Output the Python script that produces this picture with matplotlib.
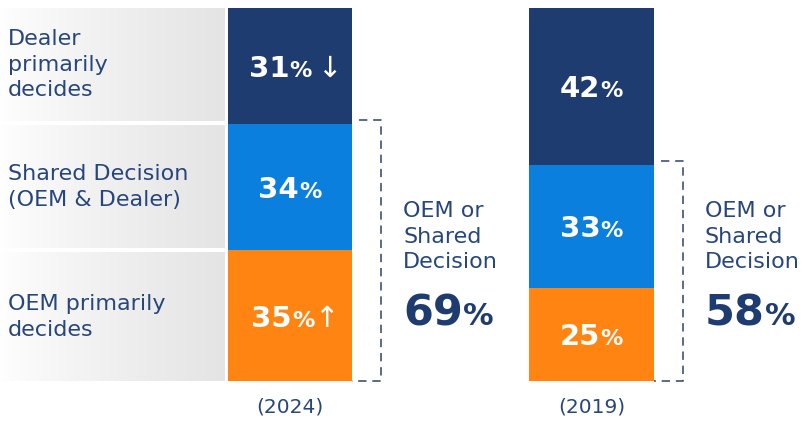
import numpy as np
import matplotlib
matplotlib.use("Agg")
import matplotlib.pyplot as plt

# data (percent of respondents)
years = ["(2024)", "(2019)"]
categories = ["OEM primarily\ndecides", "Shared Decision\n(OEM & Dealer)", "Dealer\nprimarily\ndecides"]
oem = [35, 25]
shared = [34, 33]
dealer = [31, 42]
combined = [69, 58]
# trend arrows shown next to the 2024 values (bottom to top)
trend_2024 = ["↑", "", "↓"]

navy = "#1f3c70"
blue = "#0a7fde"
orange = "#ff8412"
text_col = "#27467c"
bracket_col = "#3e5176"
colors = [orange, blue, navy]

fig = plt.figure(figsize=(8.09, 4.24), dpi=100)
ax = fig.add_axes([0, 43 / 424, 1, 373 / 424])
ax.set_xlim(0, 809)
ax.set_ylim(0, 100)
for s in ax.spines.values():
    s.set_visible(False)
ax.set_yticks([])

centers = [290, 591.5]
width = 124.5
series = [oem, shared, dealer]

# stacked bars
bottoms = np.zeros(len(years))
seg_bounds = []
for vals, col in zip(series, colors):
    vals = np.array(vals, dtype=float)
    ax.bar(centers, vals, width=width, bottom=bottoms, color=col, zorder=2)
    seg_bounds.append((bottoms.copy(), bottoms + vals))
    bottoms = bottoms + vals

# gradient panels behind the row labels, aligned to the 2024 segments
grad = 1.0 - 0.105 * np.linspace(0, 1, 256) ** 0.8
img = np.dstack([grad, grad, grad])
gap = 0.6
for i, lab in enumerate(categories):
    lo = seg_bounds[i][0][0]
    hi = seg_bounds[i][1][0]
    lo2 = lo + gap if i > 0 else lo
    hi2 = hi - gap if i < len(categories) - 1 else hi
    ax.imshow(img, extent=[0, 225, lo2, hi2], aspect="auto", zorder=1)
    ax.text(8, (lo2 + hi2) / 2, lab, fontsize=16, color=text_col,
            va="center", ha="left", linespacing=1.36, zorder=3)

ax.set_xlim(0, 809)
ax.set_ylim(0, 100)

renderer = fig.canvas.get_renderer()


def pieces_text(x, y, pieces, align="center", dy=0, dx0=0):
    widths = []
    for s, size, weight, gap_after in pieces:
        t = ax.text(0, 0, s, fontsize=size, fontweight=weight,
                    family=["DejaVu Sans"])
        widths.append(t.get_window_extent(renderer).width + gap_after)
        t.remove()
    total = sum(widths)
    dx = -total / 2 if align == "center" else 0
    dx += dx0
    for (s, size, weight, gap_after), w in zip(pieces, widths):
        ax.annotate(s, xy=(x, y), xytext=(dx, dy), textcoords="offset pixels",
                    ha="left", va="baseline", fontsize=size, fontweight=weight,
                    color="white" if align == "center" else navy,
                    family=["DejaVu Sans"], zorder=4, annotation_clip=False)
        dx += w


# value labels inside bars
for j in range(len(years)):
    for i, vals in enumerate(series):
        lo, hi = seg_bounds[i][0][j], seg_bounds[i][1][j]
        pcs = [(str(vals[j]), 21, "bold", 0), ("%", 16, "semibold", 0)]
        shift = 0
        if j == 0 and trend_2024[i]:
            pcs[-1] = ("%", 16, "semibold", 5 if trend_2024[i] == "↓" else 0)
            pcs.append((trend_2024[i], 21, "normal", 0))
            shift = 5
        pieces_text(centers[j], (lo + hi) / 2, pcs, dy=-11, dx0=shift)

# dashed brackets and combined labels
for j in range(len(years)):
    right = centers[j] + width / 2
    bx = right + 29
    top = combined[j] + 1
    ax.plot([right + 7, bx, bx, right], [top, top, 0, 0], color=bracket_col,
            lw=1.2, linestyle=(0, (5, 3.5)), zorder=2, clip_on=False)
    tx = bx + 22
    ax.text(tx, 48.3, "OEM or\nShared\nDecision", fontsize=16, color=text_col,
            ha="left", va="top", linespacing=1.36)
    pieces_text(tx, 15.0, [(str(combined[j]), 31, "bold", 0), ("%", 22, "semibold", 0)],
                align="left")

# year labels as x ticks
ax.set_xticks(centers)
ax.set_xticklabels(years, fontsize=14.5, color=text_col)
ax.tick_params(axis="x", length=0, pad=12)

fig.savefig("out.png", dpi=100, facecolor="white")
